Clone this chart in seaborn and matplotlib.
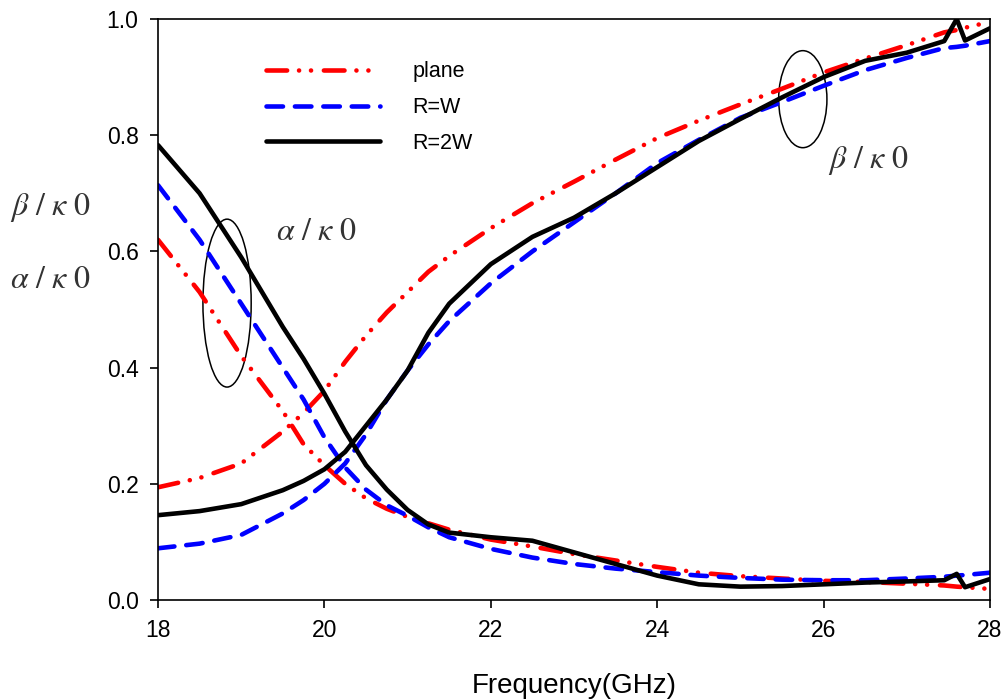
import matplotlib
matplotlib.use("Agg")
import matplotlib.pyplot as plt
import seaborn as sns
import pandas as pd
from matplotlib.patches import Ellipse

# ---------------- data ----------------
freq = [18, 18.5, 19, 19.5, 19.75, 20, 20.25, 20.5, 20.75, 21, 21.25, 21.5, 22, 22.5,
        23, 23.5, 24, 24.5, 25, 25.5, 26, 26.5, 27, 27.45, 27.6, 27.7, 28]

beta_plane = [0.194, 0.21, 0.235, 0.29, 0.322, 0.36, 0.41, 0.455, 0.495, 0.53, 0.565, 0.592,
              0.64, 0.683, 0.72, 0.758, 0.795, 0.825, 0.853, 0.88, 0.908, 0.932, 0.955,
              0.977, 0.981, 0.985, 0.995]
beta_rw = [0.089, 0.097, 0.112, 0.149, 0.172, 0.20, 0.235, 0.285, 0.345, 0.395, 0.44, 0.48,
           0.545, 0.60, 0.65, 0.70, 0.752, 0.792, 0.83, 0.857, 0.885, 0.912, 0.933,
           0.95, 0.952, 0.954, 0.962]
beta_r2w = [0.146, 0.153, 0.165, 0.189, 0.205, 0.225, 0.255, 0.30, 0.345, 0.395, 0.46, 0.51,
            0.578, 0.625, 0.658, 0.70, 0.745, 0.79, 0.828, 0.865, 0.90, 0.928, 0.942,
            0.962, 1.0, 0.963, 0.984]

alpha_plane = [0.62, 0.53, 0.42, 0.325, 0.268, 0.232, 0.2, 0.175, 0.157, 0.143, 0.132, 0.121,
               0.104, 0.092, 0.079, 0.068, 0.057, 0.047, 0.041, 0.037, 0.033, 0.031, 0.028,
               0.025, 0.023, 0.022, 0.019]
alpha_rw = [0.714, 0.62, 0.51, 0.40, 0.345, 0.28, 0.228, 0.19, 0.163, 0.145, 0.125, 0.108,
            0.088, 0.073, 0.062, 0.054, 0.048, 0.042, 0.038, 0.035, 0.034, 0.034, 0.037,
            0.04, 0.042, 0.043, 0.047]
alpha_r2w = [0.783, 0.70, 0.59, 0.47, 0.415, 0.355, 0.29, 0.232, 0.19, 0.155, 0.13, 0.116,
             0.108, 0.102, 0.082, 0.062, 0.042, 0.027, 0.023, 0.024, 0.027, 0.03, 0.032,
             0.034, 0.045, 0.022, 0.036]

series_labels = ["plane", "R=W", "R=2W"]
x_ticks = [18, 20, 22, 24, 26, 28]
y_ticks = [0.0, 0.2, 0.4, 0.6, 0.8, 1.0]

# ---------------- style ----------------
sns.set_theme(style="ticks")
plt.rcParams["font.family"] = ["Liberation Sans", "DejaVu Sans"]
plt.rcParams["mathtext.fontset"] = "stix"
plt.rcParams["text.color"] = "black"
plt.rcParams["axes.labelcolor"] = "black"
plt.rcParams["xtick.color"] = "black"
plt.rcParams["ytick.color"] = "black"

fig = plt.figure(figsize=(10.05, 7.0), dpi=100)
ax = fig.add_axes([158 / 1005, 1 - 600 / 700, (990 - 158) / 1005, (600 - 19) / 700])

styles = {
    "plane": dict(color="#ff0000", linestyle=(0, (4.5, 2.6, 0.01, 2.6, 0.01, 2.8))),
    "R=W": dict(color="#0000ff", linestyle=(0, (3.6, 2.6))),
    "R=2W": dict(color="#000000", linestyle="-"),
}

beta = {"plane": beta_plane, "R=W": beta_rw, "R=2W": beta_r2w}
alpha = {"plane": alpha_plane, "R=W": alpha_rw, "R=2W": alpha_r2w}

for name in series_labels:
    st = styles[name]
    df_b = pd.DataFrame({"f": freq, "v": beta[name]})
    df_a = pd.DataFrame({"f": freq, "v": alpha[name]})
    sns.lineplot(data=df_b, x="f", y="v", ax=ax, color=st["color"], lw=3.3,
                 linestyle=st["linestyle"], dash_capstyle="round", label=name)
    sns.lineplot(data=df_a, x="f", y="v", ax=ax, color=st["color"], lw=3.3,
                 linestyle=st["linestyle"], dash_capstyle="round", label="_nolegend_")

ax.set_xlim(18, 28)
ax.set_ylim(0, 1.0)
ax.set_xticks(x_ticks)
ax.set_yticks(y_ticks)
ax.set_xticklabels([str(t) for t in x_ticks], fontsize=16.5)
ax.set_yticklabels([f"{t:.1f}" for t in y_ticks], fontsize=16.5)
ax.tick_params(direction="out", length=6, width=1.2, color="black", pad=8)
ax.set_xlabel("Frequency(GHz)", fontsize=20, labelpad=22)
ax.set_ylabel("")
for s in ax.spines.values():
    s.set_color("black")
    s.set_linewidth(1.2)

# ellipses
ax.add_patch(Ellipse((18.83, 0.511), 0.58, 0.289, fill=False, ec="black", lw=1.1))
ax.add_patch(Ellipse((25.75, 0.862), 0.58, 0.167, fill=False, ec="black", lw=1.1))

# greek labels
lab_b = r"$\beta\ /\ \kappa\ \mathrm{0}$"
lab_a = r"$\alpha\ /\ \kappa\ \mathrm{0}$"
kw = dict(fontsize=23, va="center", ha="left", color="#333333")
ax.text(19.42, 0.633, lab_a, **kw)
ax.text(26.05, 0.757, lab_b, **kw)
fig.text(10 / 1005, 1 - 207 / 700, lab_b, **kw)
fig.text(10 / 1005, 1 - 280 / 700, lab_a, **kw)

leg = ax.legend(loc="upper left", bbox_to_anchor=(0.13, 0.927), frameon=False,
                fontsize=15.5, handlelength=5.3, handletextpad=1.5, labelspacing=0.68,
                borderpad=0, borderaxespad=0)

fig.savefig("out.png", dpi=100)
